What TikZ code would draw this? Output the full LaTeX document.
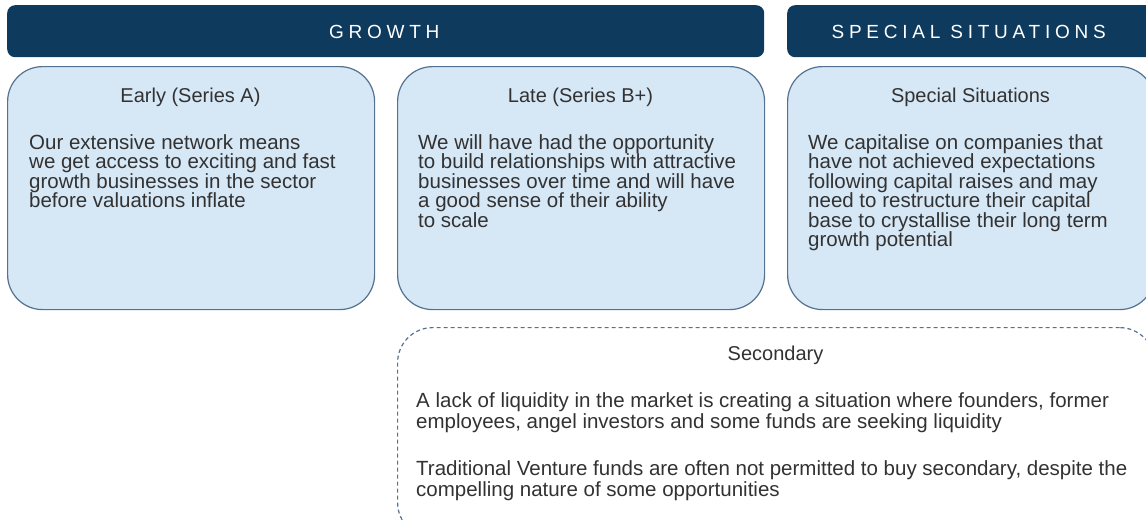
\documentclass[tikz,border=0pt]{standalone}
\usepackage{fontspec}
\setmainfont{Liberation Sans}
\definecolor{bannernavy}{RGB}{14, 58, 94}
\definecolor{boxblue}{RGB}{214, 231, 246}
\definecolor{edgeblue}{RGB}{84, 114, 144}
\definecolor{textgrey}{RGB}{50, 50, 50}
\usetikzlibrary{positioning}

\tikzset{
  banner/.style={fill=bannernavy, rounded corners=8pt, anchor=north west, inner sep=0pt,
    minimum height=52pt},
  stagebox/.style={draw=edgeblue, line width=1.2pt, fill=boxblue, rounded corners=35pt,
    anchor=north west, inner sep=0pt, minimum width=367pt, minimum height=243pt},
  bannertext/.style={text=white, font=\fontsize{19}{20}\selectfont\addfontfeatures{LetterSpace=25}},
  headtext/.style={text=textgrey, font=\fontsize{20}{20}\selectfont},
  bodytext/.style={text=textgrey, align=left, anchor=north west, inner sep=0pt,
    font=\fontsize{20.5}{19.5}\selectfont}
}

\begin{document}
\begin{tikzpicture}[x=1pt, y=-1pt]
  \useasboundingbox (0,0) rectangle (1146,522);
  \clip (0,0) rectangle (1146,522);

  % Banners
  \node[banner, minimum width=757pt] (growth) at (7,5) {};
  \node[banner, minimum width=367pt] (special) at (787,5) {};
  \node[bannertext] (growthlbl) at ([xshift=-1.5pt, yshift=-1pt]growth.center) {GROWTH};
  \node[bannertext] (speciallbl) at ([xshift=-2pt, yshift=-1pt]special.center) {SPECIAL SITUATIONS};

  % Growth stages
  \node[stagebox] (early) at (7,66) {};
  \node[stagebox] (late) at (397,66) {};
  \node[stagebox] (spsit) at (787,66) {};

  \node[headtext, anchor=base] (earlyhead) at (190.5,102) {Early (Series A)};
  \node[headtext, anchor=base] (latehead) at (580.5,102) {Late (Series B+)};
  \node[headtext, anchor=base] (spsithead) at (970.5,102) {Special Situations};

  \node[bodytext] (earlytxt) at (29,134) {Our extensive network means\\
    we get access to exciting and fast\\growth businesses in the sector\\
    before valuations inflate};
  \node[bodytext] (latetxt) at (418,134) {We will have had the opportunity\\
    to build relationships with attractive\\businesses over time and will have\\
    a good sense of their ability\\to scale};
  \node[bodytext] (spsittxt) at (808,134) {We capitalise on companies that\\
    have not achieved expectations\\following capital raises and may\\
    need to restructure their capital\\base to crystallise their long term\\
    growth potential};

  % Secondary
  \node[draw=edgeblue, line width=1.2pt, dash pattern=on 4pt off 3pt, rounded corners=35pt,
    anchor=north west, inner sep=0pt, minimum width=757pt, minimum height=210pt]
    (secondary) at (397,327) {};
  \node[headtext, anchor=base] (secondaryhead) at (775.5,360) {Secondary};
  \node[bodytext, font=\fontsize{20.5}{21.5}\selectfont] (secondarytxt) at (416,392) {%
    A lack of liquidity in the market is creating a situation where founders, former\\
    employees, angel investors and some funds are seeking liquidity\\[25pt]
    Traditional Venture funds are often not permitted to buy secondary, despite the\\
    compelling nature of some opportunities};
\end{tikzpicture}
\end{document}
